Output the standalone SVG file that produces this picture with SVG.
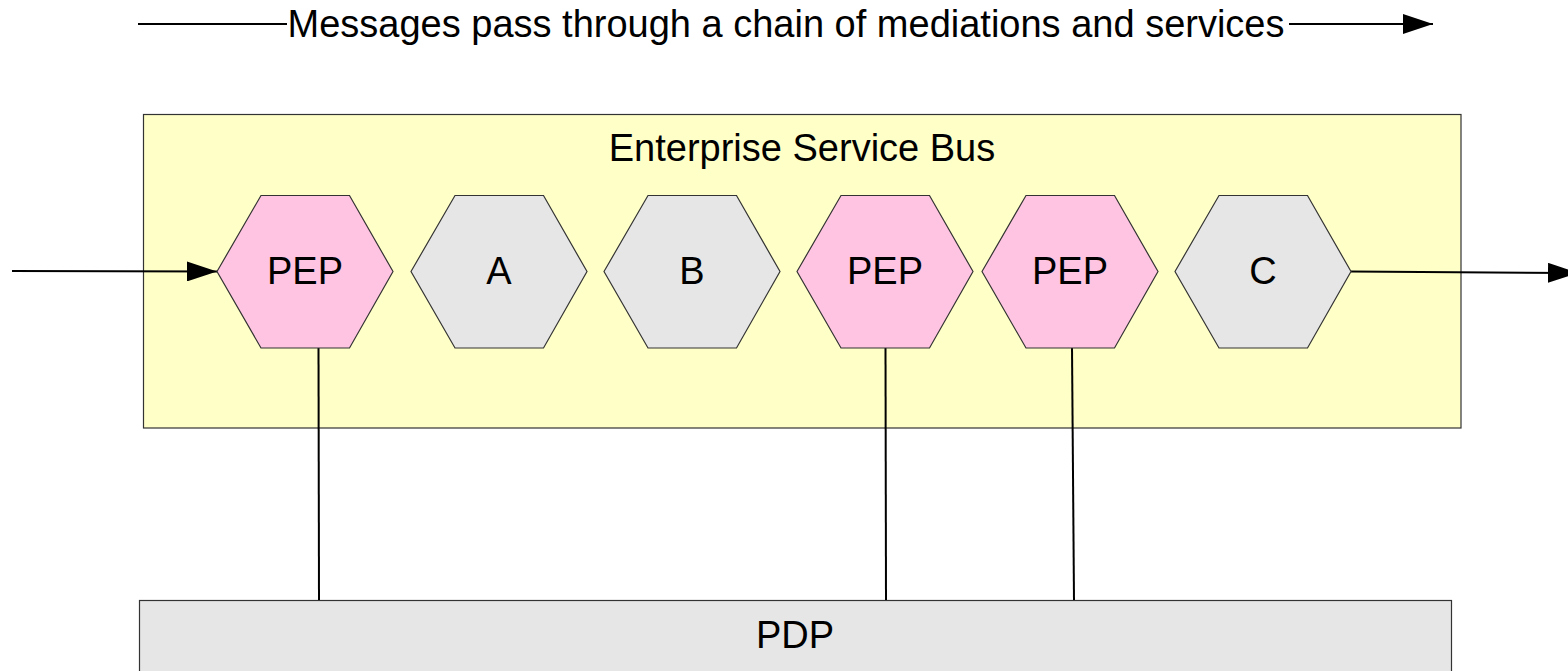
<svg xmlns="http://www.w3.org/2000/svg" width="1568" height="671" viewBox="0 0 1568 671">
  <style>
    .lbl { font-family: "Liberation Sans", Arial, sans-serif; font-size: 38px; fill: #000; text-anchor: middle; }
    .hex { stroke: #333; stroke-width: 1.2; }
    .pep { fill: #ffc4e1; }
    .svc { fill: #e6e6e6; }
    .wire { stroke: #000; stroke-width: 2; fill: none; }
  </style>
  <defs>
    <marker id="arrowBig" viewBox="0 0 30 20" markerWidth="30" markerHeight="20" refX="30" refY="10" orient="auto" markerUnits="userSpaceOnUse">
      <path d="M0,0 L30,10 L0,20 Z" fill="#000"/>
    </marker>
  </defs>

  <!-- flow direction banner -->
  <g id="banner">
    <line class="wire" x1="138" y1="24" x2="287" y2="24"/>
    <text class="lbl" x="786" y="37">Messages pass through a chain of mediations and services</text>
    <line class="wire" x1="1289" y1="24" x2="1433" y2="24" marker-end="url(#arrowBig)"/>
  </g>

  <!-- bus container -->
  <g id="esb">
    <rect x="143.5" y="114.5" width="1317.5" height="313.5" fill="#ffffc8" stroke="#333" stroke-width="1.2"/>
    <text class="lbl" x="802" y="161">Enterprise Service Bus</text>
  </g>

  <!-- policy decision point -->
  <g id="pdp">
    <rect x="139.5" y="600.5" width="1312" height="80" fill="#e6e6e6" stroke="#333" stroke-width="1.2"/>
    <text class="lbl" x="795" y="648">PDP</text>
  </g>

  <!-- connectors -->
  <g id="connectors">
    <line class="wire" x1="12" y1="271" x2="217" y2="271.5" marker-end="url(#arrowBig)"/>
    <line class="wire" x1="1351" y1="271.5" x2="1578" y2="273" marker-end="url(#arrowBig)"/>
    <line class="wire" x1="318.5" y1="348" x2="319" y2="600"/>
    <line class="wire" x1="885.5" y1="348" x2="886" y2="600"/>
    <line class="wire" x1="1072" y1="348" x2="1074" y2="600"/>
  </g>

  <!-- mediation chain -->
  <g id="pep1">
    <polygon class="hex pep" points="217,271.5 261,195.5 349.5,195.5 393,271.5 349.5,348 261,348"/>
    <text class="lbl" x="305" y="284">PEP</text>
  </g>
  <g id="a">
    <polygon class="hex svc" points="411,271.5 455,195.5 543.5,195.5 587,271.5 543.5,348 455,348"/>
    <text class="lbl" x="499" y="284">A</text>
  </g>
  <g id="b">
    <polygon class="hex svc" points="604,271.5 648,195.5 736.5,195.5 780,271.5 736.5,348 648,348"/>
    <text class="lbl" x="692" y="284">B</text>
  </g>
  <g id="pep2">
    <polygon class="hex pep" points="797,271.5 841,195.5 929.5,195.5 973,271.5 929.5,348 841,348"/>
    <text class="lbl" x="885" y="284">PEP</text>
  </g>
  <g id="pep3">
    <polygon class="hex pep" points="982,271.5 1026,195.5 1114.5,195.5 1158,271.5 1114.5,348 1026,348"/>
    <text class="lbl" x="1070" y="284">PEP</text>
  </g>
  <g id="c">
    <polygon class="hex svc" points="1175,271.5 1219,195.5 1307.5,195.5 1351,271.5 1307.5,348 1219,348"/>
    <text class="lbl" x="1263" y="284">C</text>
  </g>
</svg>
